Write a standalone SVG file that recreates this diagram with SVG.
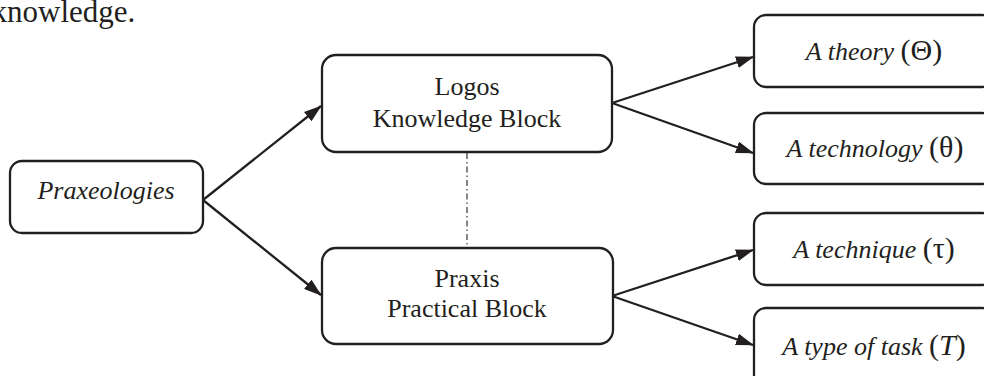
<svg xmlns="http://www.w3.org/2000/svg" width="984" height="376" viewBox="0 0 984 376" font-family="'Liberation Serif', 'Times New Roman', Times, 'DejaVu Serif', serif">
<style>
text{font-family:'Liberation Serif','Times New Roman',Times,'DejaVu Serif',serif;font-size:26px;fill:#231f20}
.c{text-anchor:middle}
.i{font-style:italic}
.m{font-size:30px;font-style:normal}
.box{fill:#fff;stroke:#231f20;stroke-width:2.3}
.ln{fill:none;stroke:#231f20;stroke-width:2.3}
.dd{fill:none;stroke:#231f20;stroke-width:1.1;stroke-dasharray:6 3 1.5 3}
</style>
<defs>
<marker id="ah" viewBox="0 0 18 12" refX="17" refY="6" markerWidth="18" markerHeight="12" markerUnits="userSpaceOnUse" orient="auto">
<path d="M0,0 L18,6 L0,12 Z" fill="#231f20"/>
</marker>
</defs>
<rect width="984" height="376" fill="#fff"/>
<text x="-8.5" y="22" style="font-size:31px">knowledge.</text>
<g id="connectors">
<line class="ln" x1="203" y1="200" x2="321" y2="106" marker-end="url(#ah)"/>
<line class="ln" x1="203" y1="200" x2="321" y2="295" marker-end="url(#ah)"/>
<line class="ln" x1="612" y1="103" x2="753" y2="57" marker-end="url(#ah)"/>
<line class="ln" x1="612" y1="103" x2="753" y2="153" marker-end="url(#ah)"/>
<line class="ln" x1="612" y1="296" x2="753" y2="250" marker-end="url(#ah)"/>
<line class="ln" x1="612" y1="296" x2="753" y2="345" marker-end="url(#ah)"/>
<line class="dd" x1="467" y1="153" x2="467" y2="247"/>
</g>
<g id="praxeologies">
<rect class="box" x="10" y="161" width="193" height="72" rx="12"/>
<text class="c i" x="106" y="199">Praxeologies</text>
</g>
<g id="logos">
<rect class="box" x="322" y="55" width="290" height="97" rx="14"/>
<text class="c" x="467" y="95">Logos</text>
<text class="c" x="467" y="127">Knowledge Block</text>
</g>
<g id="praxis">
<rect class="box" x="322" y="248" width="291" height="96" rx="14"/>
<text class="c" x="467" y="287">Praxis</text>
<text class="c" x="467" y="317">Practical Block</text>
</g>
<g id="theory">
<rect class="box" x="754" y="15" width="240" height="72" rx="12"/>
<text class="c" x="874" y="60"><tspan class="i">A theory </tspan><tspan class="m">(Θ)</tspan></text>
</g>
<g id="technology">
<rect class="box" x="754" y="113" width="240" height="71" rx="12"/>
<text class="c" x="875" y="157"><tspan class="i">A technology </tspan><tspan class="m">(θ)</tspan></text>
</g>
<g id="technique">
<rect class="box" x="754" y="213" width="240" height="72" rx="12"/>
<text class="c" x="874" y="258"><tspan class="i">A technique </tspan><tspan class="m">(τ)</tspan></text>
</g>
<g id="task">
<rect class="box" x="754" y="308" width="240" height="80" rx="12"/>
<text class="c" x="874" y="355"><tspan class="i">A type of task </tspan><tspan class="m">(</tspan><tspan class="m" style="font-style:italic">T</tspan><tspan class="m">)</tspan></text>
</g>
</svg>
